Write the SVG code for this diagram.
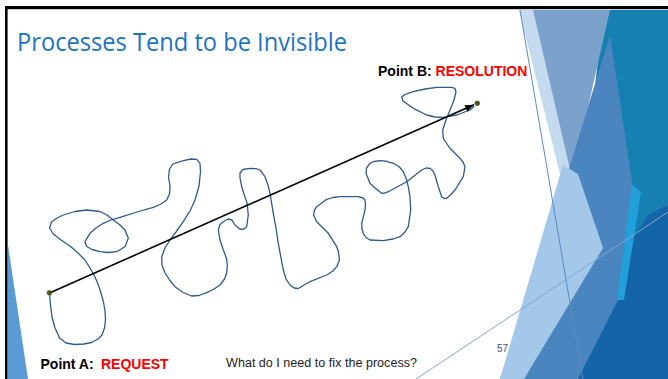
<svg xmlns="http://www.w3.org/2000/svg" width="668" height="379" viewBox="0 0 668 379">
<style>
.lbl{font-family:"Liberation Sans",Arial,sans-serif;font-weight:bold;font-size:14px;fill:#000}
.red{fill:#FF0000}
.dot{fill:#4B5A1E;stroke:#3A4416;stroke-width:0.6}
.squig{fill:none;stroke:#2E5A8C;stroke-width:1.3;stroke-linejoin:round;stroke-linecap:round}
</style>
<defs>
<marker id="arr" markerUnits="userSpaceOnUse" markerWidth="10" markerHeight="8" refX="9" refY="4" orient="auto">
<path d="M0,0.5 L9,4 L0,7.5 z" fill="#000"/>
</marker>
</defs>
<rect x="0" y="0" width="668" height="379" fill="#fff"/>
<g id="background">
<polygon points="8,245 8,379 28,379" fill="#5B9BD5"/>
<polygon points="604,10 668,10 668,379 560,379" fill="#1580B1"/>
<polygon points="519,10 536,10 578,180 563,186" fill="#C4DAEF"/>
<polygon points="533,10 610,10 572,178" fill="#7BA2CB"/>
<polygon points="610,35 637,215 622,300 590,379 500,379 568,172" fill="#4A85C0"/>
<polygon points="563,165 578,174 603,248 524,379 500,379" fill="#A3C8EA"/>
<polygon points="668,205 668,379 578,379 618,300 632,240 648,215" fill="#1465A8"/>
<polygon points="632,185 641,192 624,300 617,300" fill="#22A0DC"/>
<line x1="520" y1="10" x2="583" y2="379" stroke="#5A8CC0" stroke-width="1"/>
<line x1="416" y1="379" x2="668" y2="212" stroke="#7FA6CF" stroke-width="1"/>
</g>
<g id="frame">
<rect x="5" y="6" width="663" height="3.2" fill="#000"/>
<rect x="5" y="6" width="2.6" height="373" fill="#000"/>
</g>
<g id="title">
<text x="17" y="51" font-family="Open Sans, sans-serif" font-size="25" fill="#2272C3" textLength="330" lengthAdjust="spacingAndGlyphs">Processes Tend to be Invisible</text>
</g>
<g id="squiggle">
<polyline class="squig" points="49.5,293 50.5,305 52,317 55,328 59.6,338 66,343 74.6,344.5 84,344 91.6,342.5 98,339 102,335 104.5,328 105.5,320 105,311 103.5,302 101,293 98,284 95,277 90,268 85,260 78,253 70,246 61,240 53.3,234 49.5,228 51.7,221.7 57,218 63.3,215 75,211.5 86.7,210 100,211.5 107,215 113.3,220 120,225 125,230 128.3,238.3 125,246.7 116.7,251.7 108,252.5 100,251.7 92,249.5 86.7,246.5 85,241.7 90,233.3 96,228 103.3,223.3 111,220 120,217.3 137,212 153.3,207.3 161,204 166.7,200 169.5,194 170,186 168.5,177 169.5,169 173,164 183.3,160.7 191,159 196.7,159.3 200,163.3 200.5,172 199,186 195,200 190,211 183.3,221.7 176,232 170,240 165,248 161.7,256.7 162,265 165,273 170,280.5 175,286.7 183,292.5 191.7,296 199,295.5 206.7,292.7 214,289 220,285 224.5,279 226.7,273.3 227.3,266 226.7,259 223,249 220,240 218.3,230 220,224.5 223.3,221.7 228,219 232,220 235,225 240,229.3 244,229 246.7,226.7 248.3,215 247.5,207 246.7,201.7 244,194 241.7,186.7 240,178 240,173 243,169.5 250,168.3 256,168.7 260,170 265,176.7 268,185 270,193.3 273.3,213.3 276,228 278.3,243.3 283.3,270 286,279 290,285 294,288 298.3,288.5 304,285 310,281.7 326.7,275 333,271 336.7,266.7 339.5,260 338.5,252 336.7,246.7 328.3,233.3 322,227 316.7,221.7 313.5,215 314.5,210 316.7,206.7 326.7,199.3 333,197.5 340,196.7 358.3,196.7 363,198 365,200 365.5,205 365,210 361.7,223.3 362,229 363.3,233.3 366,237.5 370,240 383.3,240.7 393,239 400,236.7 405,232 408.3,226.7 410.7,210 410,197 408.3,186.7 406,178 403.3,171.7 399,166.5 393.3,163.3 386,161.2 380,160.7 374,161.5 370,163.3 366.5,168 366,173.3 370,183.3 375,188 381.7,193.3 385,193 388.3,191.7 406.7,181.7 421.7,170 426,168 430,168.3 433,171 435,175 438.3,186.7 441.7,196.7 444,198.5 446.7,198.3 451,194.5 455,190 463.3,176.7 465,166.7 463,162 460,158.3 450,148.3 445,141 443.3,138.3 442.7,130 446,120 450,110 454,100 456,92 455,88.5 451.7,87.3 436.7,87.3 425,89 413.3,91.7 405,94.5 401.7,97 403,101 413.3,108.3 426.7,115 435,117 443.3,117.3 456.7,115 470,110 474,106.5"/>
</g>
<g id="connectors">
<line x1="49.5" y1="293" x2="474" y2="104.8" stroke="#000" stroke-width="1.6" marker-end="url(#arr)"/>
</g>
<g id="pointA">
<circle class="dot" cx="49.4" cy="292.8" r="2.4"/>
<text class="lbl" x="40.5" y="369" font-size="13.5"><tspan>Point A:</tspan><tspan class="red" x="101">REQUEST</tspan></text>
</g>
<g id="pointB">
<circle class="dot" cx="477.3" cy="103.3" r="2.4"/>
<text class="lbl" x="378" y="76">Point B: <tspan class="red">RESOLUTION</tspan></text>
</g>
<g id="question">
<text x="226" y="367" font-family="Liberation Sans, Arial, sans-serif" font-size="12" fill="#222" textLength="191" lengthAdjust="spacingAndGlyphs">What do I need to fix the process?</text>
</g>
<g id="pagenum">
<text x="497" y="352" font-family="Liberation Sans, Arial, sans-serif" font-size="10" fill="#44507A">57</text>
</g>
</svg>
